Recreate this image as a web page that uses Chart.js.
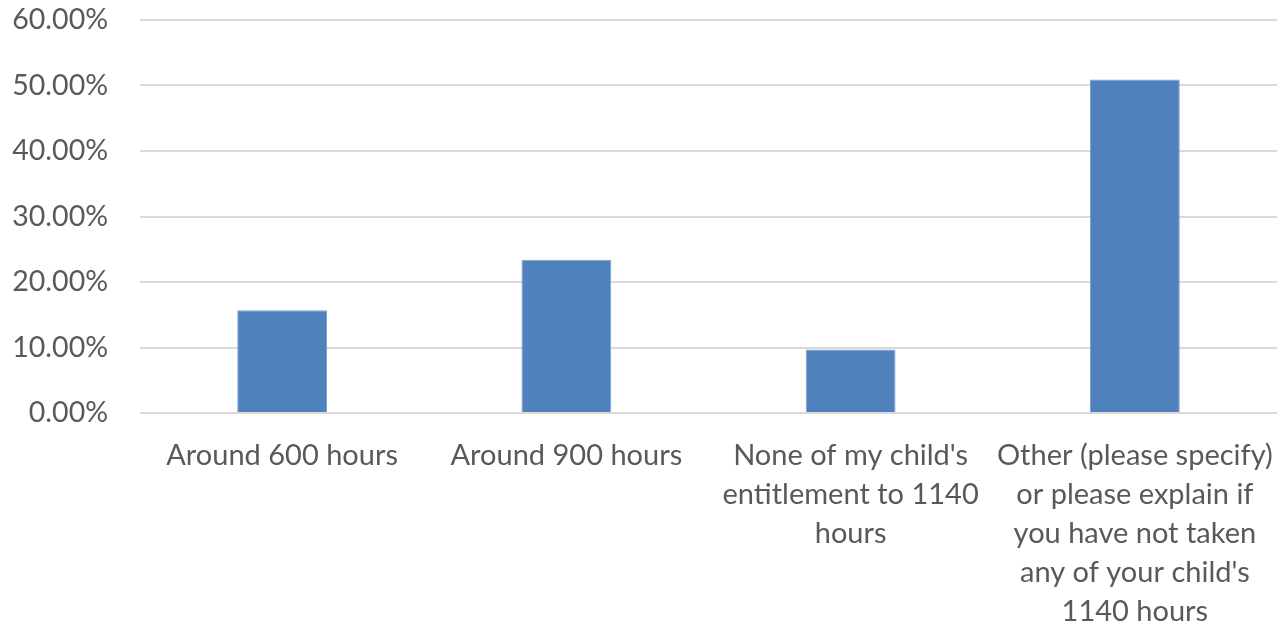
<!DOCTYPE html>
<html><head><meta charset="utf-8">
<script src="https://cdn.jsdelivr.net/npm/chart.js@4"></script>
<style>html,body{margin:0;padding:0;background:#fff}#wrap{width:1280px;height:623px}</style>
</head><body><div id="wrap"><canvas id="c"></canvas></div>
<script>
const categories = [
  ["Around 600 hours"],
  ["Around 900 hours"],
  ["None of my child's", "entitlement to 1140", "hours"],
  ["Other (please specify)", "or please explain if", "you have not taken", "any of your child's", "1140 hours"]
];
const values = [15.7, 23.4, 9.7, 50.9];
const yTicks = [0, 10, 20, 30, 40, 50, 60];

const FONT = "Lato, 'Open Sans', sans-serif";
new Chart(document.getElementById('c'), {
  type: 'bar',
  data: { labels: categories, datasets: [{ data: values, backgroundColor: '#4f81bd', borderColor: '#7ba0cf', borderWidth: 1,
    categoryPercentage: 1, barPercentage: 0.316 }] },
  options: {
    responsive: true, maintainAspectRatio: false, animation: false,
    layout: { padding: { top: 0, right: 3, left: 0, bottom: 0 } },
    plugins: { legend: { display: false }, tooltip: { enabled: false } },
    scales: {
      x: {
        grid: { display: false, drawTicks: false },
        border: { display: false },
        ticks: { color: '#595959', font: { family: FONT, size: 29, lineHeight: 1.345 }, padding: 23, maxRotation: 0, autoSkip: false },
        afterFit: (s) => { s.height = 210; s.paddingLeft = 0; s.paddingRight = 0; }
      },
      y: {
        min: 0, max: 60,
        afterBuildTicks: (s) => { s.ticks = yTicks.map(v => ({ value: v })); },
        grid: { color: '#d9d9d9', lineWidth: 2, drawTicks: false },
        border: { display: false },
        ticks: { color: '#595959', font: { family: FONT, size: 28.5 }, padding: 32,
          callback: (v) => v.toFixed(2) + '%' },
        afterFit: (s) => { s.width = 140; s.paddingTop = 20; s.paddingBottom = 0; }
      }
    }
  }
});
</script></body></html>
